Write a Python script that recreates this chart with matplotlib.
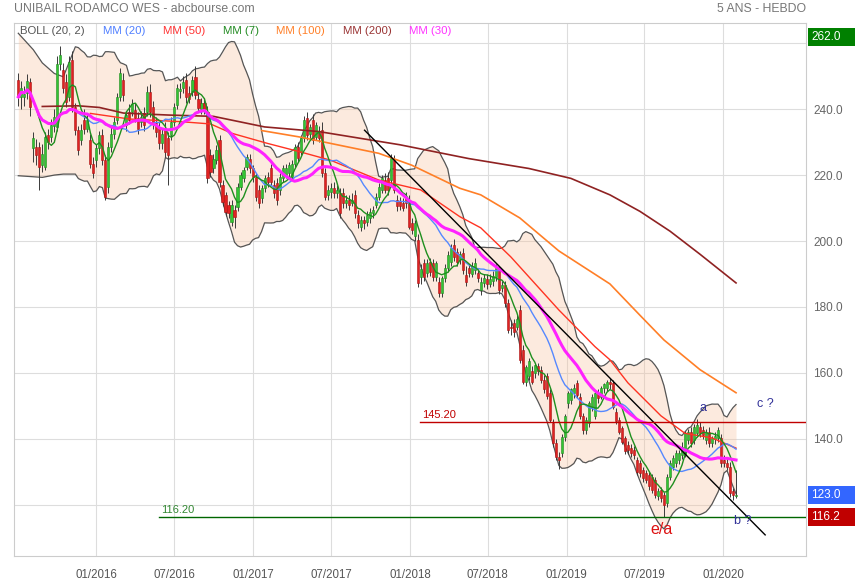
import numpy as np
import pandas as pd
import matplotlib
matplotlib.use("Agg")
import matplotlib.pyplot as plt
import matplotlib.dates as mdates
from matplotlib.patches import Rectangle

plt.rcParams['font.family'] = ['Liberation Sans', 'DejaVu Sans']

# weekly candles, first week 2015-07-03
first_week = "2015-07-03"
opens = [248.8, 243.7, 243.7, 245.0, 248.3, 228.1, 228.6, 228.6, 223.0, 222.5,
         232.1, 231.6, 235.0, 234.6, 253.8, 251.8, 248.3, 243.7, 254.8, 240.7,
         233.6, 230.6, 236.7, 234.1, 230.6, 223.5, 224.5, 228.1, 232.1, 224.5,
         216.5, 228.6, 232.6, 236.7, 243.7, 248.8, 235.2, 239.2, 239.2, 239.7,
         237.2, 236.2, 238.7, 239.2, 245.3, 240.7, 235.7, 234.6, 229.6, 234.2,
         231.1, 232.1, 236.2, 241.2, 245.5, 246.3, 248.8, 245.0, 245.2, 249.8,
         243.2, 240.0, 242.0, 239.2, 226.1, 222.0, 224.5, 230.6, 217.0, 213.9,
         210.9, 205.8, 209.4, 210.4, 216.5, 219.0, 222.5, 225.0, 222.0, 219.5,
         215.4, 213.0, 216.0, 219.5, 222.0, 217.0, 217.5, 215.5, 219.0, 220.0,
         220.5, 219.5, 223.5, 228.6, 227.1, 231.1, 237.2, 232.6, 236.6, 231.6,
         233.1, 233.6, 220.5, 214.0, 215.0, 216.0, 214.5, 214.5, 214.5, 211.5,
         212.5, 211.5, 214.0, 207.9, 204.4, 206.4, 205.9, 206.9, 208.4, 211.0,
         213.5, 215.5, 218.5, 219.0, 218.5, 224.6, 212.5, 212.0, 211.5, 213.5,
         212.5, 205.4, 201.4, 200.3, 189.0, 193.2, 190.2, 193.7, 193.2, 189.2,
         187.7, 184.2, 188.7, 191.7, 193.7, 198.8, 196.8, 194.5, 196.3, 189.7,
         191.7, 190.0, 191.2, 190.2, 185.2, 187.2, 188.5, 187.0, 188.0, 189.2,
         191.2, 185.7, 186.7, 181.1, 174.0, 175.0, 174.0, 179.1, 167.0, 157.4,
         159.0, 160.5, 159.9, 162.0, 160.9, 158.0, 159.0, 153.8, 144.8, 138.7,
         134.6, 135.6, 140.7, 150.8, 151.8, 154.0, 156.9, 152.8, 146.8, 142.7,
         144.7, 149.8, 146.8, 153.8, 152.8, 155.3, 155.3, 157.3, 156.9, 148.3,
         145.8, 143.3, 140.2, 138.2, 137.2, 136.7, 133.6, 132.6, 130.5, 129.6,
         129.1, 128.6, 127.6, 122.6, 124.5, 123.1, 120.6, 128.6, 131.6, 132.6,
         133.6, 135.2, 135.2, 139.7, 142.2, 139.7, 141.7, 143.7, 142.7, 139.7,
         142.2, 138.7, 140.0, 140.2, 140.2, 133.6, 132.6, 131.6, 124.1, 122.8]
highs = [251.0, 248.5, 247.0, 250.5, 249.5, 233.0, 231.0, 230.0, 229.5, 233.0,
         234.0, 237.0, 240.0, 256.0, 259.0, 254.0, 250.5, 256.0, 257.5, 242.0,
         235.0, 235.5, 240.0, 238.5, 232.5, 225.5, 229.5, 233.5, 234.0, 226.0,
         230.0, 234.5, 237.5, 245.0, 252.5, 251.0, 239.5, 241.5, 243.0, 242.0,
         239.0, 239.5, 240.5, 247.0, 247.5, 242.5, 237.5, 236.0, 234.0, 236.0,
         233.0, 237.5, 242.0, 247.5, 248.0, 250.0, 251.0, 247.0, 250.0, 253.0,
         245.0, 243.5, 243.5, 241.0, 228.0, 226.5, 229.0, 232.0, 218.5, 215.0,
         212.0, 212.5, 211.0, 217.5, 221.0, 222.5, 226.5, 226.5, 223.0, 220.5,
         217.0, 217.0, 220.0, 221.0, 223.5, 218.5, 219.0, 220.5, 223.0, 223.5,
         224.0, 224.5, 229.5, 230.0, 232.0, 238.0, 239.0, 235.5, 238.5, 236.0,
         235.0, 236.0, 222.0, 217.0, 217.5, 218.0, 217.0, 216.0, 216.0, 214.0,
         214.0, 214.5, 215.5, 209.5, 207.5, 207.5, 209.0, 210.0, 210.5, 214.5,
         217.5, 220.0, 220.5, 221.0, 226.5, 226.0, 214.0, 213.5, 213.0, 215.0,
         214.0, 207.0, 206.5, 202.0, 193.0, 194.5, 194.5, 195.0, 194.5, 194.0,
         189.0, 189.5, 193.0, 197.0, 199.0, 200.5, 198.0, 197.0, 198.0, 192.5,
         193.0, 193.5, 195.0, 191.5, 189.0, 190.0, 190.0, 190.0, 191.0, 193.0,
         192.5, 188.0, 188.0, 182.5, 176.0, 176.5, 178.0, 180.5, 168.5, 162.5,
         164.5, 162.0, 163.0, 163.0, 162.0, 159.5, 160.0, 155.0, 146.0, 140.0,
         136.0, 141.5, 147.5, 154.5, 155.5, 156.5, 158.0, 154.0, 148.0, 146.5,
         151.5, 153.5, 154.5, 155.0, 156.0, 157.0, 158.0, 158.5, 158.0, 149.5,
         146.5, 144.0, 141.0, 139.5, 138.5, 138.0, 134.5, 133.5, 131.5, 130.5,
         130.0, 129.5, 128.5, 125.0, 125.5, 124.0, 129.5, 133.5, 135.0, 136.5,
         136.5, 139.0, 142.5, 143.0, 143.5, 144.5, 146.0, 145.0, 144.0, 143.0,
         143.5, 141.0, 142.0, 143.5, 141.5, 135.0, 134.5, 133.0, 125.0, 130.6]
lows = [241.0, 240.0, 241.0, 243.0, 238.0, 224.0, 223.0, 215.5, 221.0, 221.5,
        228.0, 230.0, 233.0, 233.5, 252.0, 245.0, 240.5, 242.5, 239.0, 232.0,
        226.0, 229.0, 232.5, 233.0, 222.0, 219.0, 222.5, 226.5, 223.0, 212.5,
        214.5, 227.0, 231.0, 235.5, 242.5, 242.5, 233.5, 235.5, 238.0, 236.0,
        232.5, 234.5, 233.5, 238.0, 237.5, 234.0, 231.5, 228.0, 228.0, 225.5,
        217.0, 230.5, 235.0, 240.0, 243.5, 245.0, 242.0, 242.0, 244.0, 243.0,
        239.0, 238.5, 238.5, 217.5, 219.5, 220.5, 223.5, 216.5, 210.5, 207.5,
        207.0, 204.5, 204.0, 209.0, 215.5, 218.0, 221.5, 220.5, 218.0, 212.0,
        210.0, 211.5, 215.0, 216.5, 217.0, 213.0, 211.0, 214.0, 218.0, 219.0,
        219.5, 218.5, 222.5, 224.0, 226.0, 230.0, 230.5, 231.0, 229.5, 230.5,
        230.0, 219.5, 212.5, 212.5, 213.0, 213.0, 213.0, 207.0, 210.0, 210.0,
        209.5, 210.5, 207.0, 204.0, 203.0, 203.5, 204.5, 205.5, 207.0, 210.0,
        212.5, 214.5, 214.5, 214.0, 217.5, 214.5, 209.0, 209.5, 209.0, 210.0,
        203.5, 202.0, 200.0, 186.0, 187.0, 188.0, 189.0, 189.5, 188.0, 188.0,
        183.0, 183.0, 187.5, 190.5, 192.5, 194.0, 192.5, 193.0, 190.0, 186.5,
        189.0, 189.0, 190.0, 187.5, 183.5, 186.0, 185.5, 186.0, 186.5, 188.0,
        184.0, 184.5, 180.0, 172.0, 171.5, 171.0, 173.0, 163.0, 156.5, 156.0,
        158.0, 156.5, 158.5, 159.5, 157.0, 154.0, 152.0, 145.0, 137.5, 133.5,
        131.0, 134.5, 139.5, 149.5, 150.5, 152.5, 152.5, 146.0, 141.5, 141.5,
        143.5, 148.5, 146.0, 151.0, 152.0, 154.0, 154.5, 155.0, 149.0, 144.5,
        141.5, 138.5, 135.5, 135.5, 134.5, 134.0, 129.0, 128.5, 127.0, 126.5,
        124.5, 123.5, 122.0, 121.5, 121.0, 116.2, 119.5, 127.5, 130.5, 131.5,
        132.5, 134.0, 134.5, 138.5, 137.5, 138.5, 140.5, 140.5, 140.0, 138.5,
        137.5, 137.5, 138.5, 139.0, 131.5, 131.5, 130.5, 122.5, 121.5, 122.0]
closes = [243.7, 246.5, 244.7, 248.5, 240.7, 231.1, 226.1, 222.5, 226.5, 231.6,
          230.1, 235.2, 237.5, 253.8, 256.4, 246.3, 242.2, 254.3, 240.7, 233.6,
          227.6, 233.6, 234.1, 236.7, 223.5, 220.5, 228.1, 232.1, 224.5, 213.4,
          228.6, 232.6, 236.1, 243.7, 250.8, 244.2, 238.2, 236.7, 241.7, 237.2,
          234.1, 237.7, 235.2, 245.3, 239.2, 235.7, 233.0, 229.6, 232.6, 227.1,
          226.1, 236.2, 240.5, 246.3, 246.0, 248.3, 243.7, 243.0, 248.8, 244.2,
          240.2, 242.0, 240.0, 219.0, 221.0, 225.0, 227.6, 218.0, 211.9, 208.9,
          208.4, 210.9, 207.3, 216.5, 220.0, 221.5, 225.5, 222.0, 219.5, 213.4,
          211.4, 216.0, 219.0, 218.0, 218.0, 214.5, 212.5, 219.5, 222.0, 222.0,
          223.0, 223.5, 228.6, 225.1, 231.1, 236.7, 232.1, 234.5, 230.6, 235.1,
          231.1, 220.6, 213.4, 215.5, 216.0, 214.5, 215.5, 208.4, 211.5, 212.5,
          211.0, 212.5, 208.4, 205.4, 206.4, 205.5, 207.9, 208.9, 209.4, 213.5,
          216.5, 219.0, 215.5, 215.5, 225.1, 215.5, 210.5, 210.5, 210.0, 211.5,
          204.4, 203.4, 205.4, 187.2, 191.5, 189.2, 193.2, 190.7, 189.2, 193.2,
          184.2, 188.7, 191.7, 195.8, 197.8, 195.3, 193.7, 196.0, 191.2, 187.7,
          190.2, 192.5, 193.2, 188.7, 187.7, 188.7, 187.0, 188.5, 189.5, 191.7,
          185.2, 186.7, 181.1, 173.0, 173.5, 172.5, 176.5, 163.9, 157.4, 161.7,
          163.6, 157.4, 162.4, 160.5, 158.0, 155.0, 152.9, 145.8, 138.7, 134.6,
          133.6, 140.7, 146.8, 153.8, 155.0, 155.5, 153.3, 146.8, 142.7, 145.8,
          150.8, 152.8, 153.8, 152.5, 155.3, 156.5, 157.3, 156.5, 149.8, 145.3,
          142.2, 139.2, 136.2, 136.7, 135.7, 135.2, 130.1, 129.6, 128.0, 127.6,
          125.6, 124.6, 123.1, 124.1, 122.0, 120.1, 128.6, 132.6, 134.1, 135.7,
          135.7, 137.5, 141.7, 142.2, 138.7, 143.7, 144.2, 141.7, 141.2, 142.2,
          138.7, 140.2, 141.0, 142.7, 132.6, 132.6, 131.6, 123.6, 123.1, 123.0]

# bollinger band before 20 weeks of data exist
boll_early_week = [0, 5, 8, 12, 15, 19]
boll_early_up = [263.0, 258.0, 254.0, 250.8, 249.8, 258.9]
boll_early_low = [219.8, 219.5, 219.3, 220.0, 220.3, 220.3]

# long averages (need history before the window)
mm50_week = [24, 37, 54, 64, 71, 83, 94, 104, 120, 134, 147, 154, 164, 180, 192, 197, 203, 214, 222, 231, 239]
mm50_val = [238.7, 237.0, 236.2, 235.5, 232.7, 229.6, 227.0, 224.5, 218.5, 215.5, 207.4, 204.0, 195.2,
            179.1, 168.0, 164.0, 157.0, 147.0, 141.7, 140.3, 137.2]
mm100_week = [81, 94, 104, 120, 131, 147, 154, 167, 180, 197, 207, 215, 227, 239]
mm100_val = [233.5, 231.5, 229.6, 226.6, 223.0, 216.0, 214.0, 207.0, 197.0, 187.0, 177.5, 170.0, 161.0, 154.0]
mm200_week = [8, 20, 27, 35, 50, 65, 82, 100, 127, 150, 170, 184, 197, 207, 217, 227, 239]
mm200_val = [240.8, 241.0, 240.5, 238.8, 238.2, 237.8, 234.6, 233.2, 229.2, 225.0, 222.0, 219.0, 214.0,
             209.0, 203.0, 196.0, 187.3]

# trend line and levels
trend_week = [115.3, 248.7]
trend_val = [233.6, 110.9]
level_high = 145.2
level_low = 116.2
last_close = 123.0
top_value = 262.0

start = pd.Timestamp(first_week)


def wk(i):
    return mdates.date2num(start + pd.Timedelta(days=7 * float(i)))


def wks(lst):
    return np.array([wk(i) for i in lst])


o = np.array(opens)
h = np.array(highs)
l = np.array(lows)
c = np.array(closes)
n = len(c)
x = wks(range(n))

s = pd.Series(c)
mm7 = s.rolling(7, min_periods=1).mean()
mm20 = s.rolling(20, min_periods=1).mean()
mm30 = s.rolling(30, min_periods=1).mean()
mid = s.rolling(20).mean()
sd = s.rolling(20).std(ddof=0)
bu = (mid + 2 * sd).values
bl = (mid - 2 * sd).values

bx = np.concatenate([wks(boll_early_week), x[20:]])
bup = np.concatenate([boll_early_up, bu[20:]])
blo = np.concatenate([boll_early_low, bl[20:]])

fig = plt.figure(figsize=(8.55, 5.8), dpi=100)
W, H = 855.0, 580.0
ax = fig.add_axes([14 / W, 1 - 556 / H, (806 - 14) / W, (556 - 22.7) / H])

ax.fill_between(bx, blo, bup, color=(0.97, 0.75, 0.6), alpha=0.32, lw=0, zorder=1)
ax.plot(bx, bup, color='#555555', lw=0.9, zorder=2)
ax.plot(bx, blo, color='#555555', lw=0.9, zorder=2)

up = c >= o
ax.vlines(x, l, h, color='#3a3a3a', lw=0.7, zorder=3)
ax.bar(x[up], (c - o)[up], bottom=o[up], width=4.8, color='#33c433', edgecolor='#1f8a1f', lw=0.4, zorder=4)
ax.bar(x[~up], (o - c)[~up], bottom=c[~up], width=4.8, color='#e02222', edgecolor='#a81212', lw=0.4, zorder=4)

ax.plot(wks(mm200_week), mm200_val, color='#8f2222', lw=1.2, zorder=5)
ax.plot(wks(mm100_week), mm100_val, color='#ff7f27', lw=1.2, zorder=5)
ax.plot(wks(mm50_week), mm50_val, color='#ff3322', lw=1.0, zorder=5)
ax.plot(x, mm20, color='#5588ff', lw=1.0, zorder=5)
ax.plot(x, mm7, color='#1f8f1f', lw=1.0, zorder=5)
ax.plot(x, mm30, color='#ff22ff', lw=2.2, zorder=6)

ax.plot(wks(trend_week), trend_val, color='black', lw=1.0, zorder=7)

x_left = wk(-1.43)
x_right = wk(262.3)
ax.plot([wk(133.7), x_right], [level_high, level_high], color='#c00000', lw=1.0, zorder=7)
ax.plot([wk(47), x_right], [level_low, level_low], color='#006600', lw=1.0, zorder=7)
ax.text(wk(134.5), level_high + 0.6, "145.20", color='#c00000', fontsize=8, va='bottom', zorder=8)
ax.text(wk(47.6), level_low + 0.6, "116.20", color='#338833', fontsize=8, va='bottom', zorder=8)

ax.text(wk(228), 149.4, "a", color='#333399', fontsize=9, ha='center', va='center', zorder=8)
ax.text(wk(248.7), 150.6, "c ?", color='#333399', fontsize=9, ha='center', va='center', zorder=8)
ax.text(wk(241.2), 115.0, "b ?", color='#333399', fontsize=9, ha='center', va='center', zorder=8)
ax.text(wk(214.2), 112.6, "e/a", color='#dd1111', fontsize=11.5, ha='center', va='center', zorder=8)

ax.set_xlim(x_left, x_right)
ax.set_ylim(104.5, 266.2)

yt = list(range(120, 261, 20))
ax.set_yticks(yt)
ax.set_yticklabels(['' if v in (120, 260) else f"{v:.1f}" for v in yt])
ax.yaxis.tick_right()
ax.tick_params(axis='y', length=0, pad=5, labelcolor='#666666', labelsize=8.5)

xt = [mdates.date2num(pd.Timestamp(f"{y}-{m:02d}-01")) for y in range(2016, 2021) for m in (1, 7)]
xt = [t for t in xt if t < wk(240)]
ax.set_xticks(xt)
ax.xaxis.set_major_formatter(mdates.DateFormatter('%m/%Y'))
ax.tick_params(axis='x', length=0, pad=9, labelcolor='#555555', labelsize=8.3)

ax.grid(color='#dddddd', lw=0.8)
ax.set_axisbelow(True)
for sp in ax.spines.values():
    sp.set_color('#cccccc')

# header texts
fig.text(14 / W, 1 - 8.5 / H, "UNIBAIL RODAMCO WES - abcbourse.com", color='#777777', fontsize=8.8, va='center')
fig.text(806 / W, 1 - 8.5 / H, "5 ANS - HEBDO", color='#777777', fontsize=8.8, va='center', ha='right')

legend = [("BOLL (20, 2)", '#555555', 20), ("MM (20)", '#4f7fff', 103), ("MM (50)", '#ff3333', 163),
          ("MM (7)", '#228b22', 222.5), ("MM (100)", '#ff7f27', 276), ("MM (200)", '#993333', 343),
          ("MM (30)", '#ff33ff', 409)]
for txt, col, px in legend:
    fig.text(px / W, 1 - 31 / H, txt, color=col, fontsize=8.2, va='center')


# value boxes on the right axis
def box(value, fc):
    fy = fig.transFigure.inverted().transform(ax.transData.transform((x_left, value)))[1]
    fig.patches.append(Rectangle((808 / W, fy - 9 / H), 47 / W, 18 / H, transform=fig.transFigure,
                                 facecolor=fc, edgecolor='none', zorder=10))
    fig.text(811 / W, fy, f"{value:.1f}", color='white', fontsize=8.5, va='center', zorder=11)


box(top_value, '#008000')
box(last_close, '#3366ff')
box(level_low, '#c00000')

fig.savefig("out.png", dpi=100)
